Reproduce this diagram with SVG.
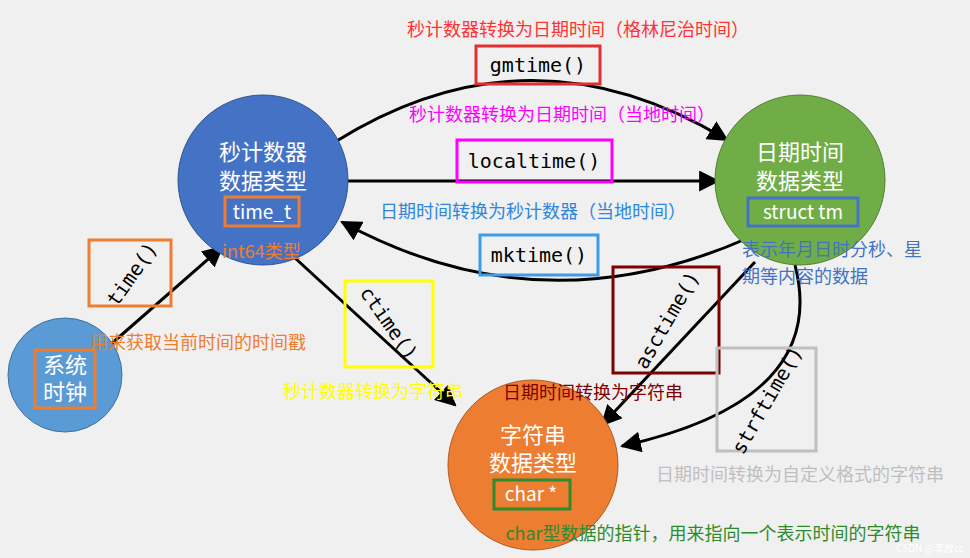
<svg xmlns="http://www.w3.org/2000/svg" width="970" height="558" viewBox="0 0 970 558">
<defs>
<marker id="ah" viewBox="0 0 10 10" refX="9" refY="5" markerWidth="7" markerHeight="7" orient="auto"><path d="M0,0 L10,5 L0,10 z" fill="#000"/></marker>
<style>
text{font-family:"Noto Sans CJK SC","Noto Sans",sans-serif;}
.lbl{font-size:18px;}
.mono{font-family:"DejaVu Sans Mono","Liberation Mono","Noto Sans CJK SC",monospace;font-size:20px;fill:#000;}
.ct{font-size:22px;fill:#fff;text-anchor:middle;}
.ln{fill:none;stroke:#000;stroke-width:3;marker-end:url(#ah);}
.bx{fill:none;stroke-width:3;}
</style>
</defs>
<rect width="970" height="558" fill="#f0f0f0"/>
<g id="connectors">
<path class="ln" d="M335,142 Q530,20 727,140"/>
<path class="ln" d="M348,181 L718,181"/>
<path class="ln" d="M748,238 Q540,330 342,222"/>
<path class="ln" d="M110,345 L222,247"/>
<path class="ln" d="M295,258 L455,405"/>
<path class="ln" d="M755,262 L602,425"/>
<path class="ln" d="M795,265 Q830,400 622,446"/>
</g>
<g id="seconds">
<circle cx="263" cy="180" r="85" fill="#4472c4" stroke="#2f528f" stroke-width="1"/>
<text class="ct" x="263" y="160">秒计数器</text>
<text class="ct" x="263" y="189">数据类型</text>
<rect class="bx" x="225" y="197" width="74" height="29" stroke="#ed7d31"/>
<text class="ct" x="262" y="219" style="font-size:19px">time_t</text>
<text class="lbl" x="222" y="258" fill="#ed7d31">int64类型</text>
</g>
<g id="datetime">
<circle cx="800" cy="180" r="85" fill="#70ad47" stroke="#507e32" stroke-width="1"/>
<text class="ct" x="800" y="160">日期时间</text>
<text class="ct" x="800" y="189">数据类型</text>
<rect class="bx" x="748" y="198" width="110" height="28" stroke="#4472c4"/>
<text class="ct" x="803" y="219" style="font-size:19px">struct tm</text>
<text class="lbl" x="742" y="256" fill="#4472c4">表示年月日时分秒、星</text>
<text class="lbl" x="742" y="283" fill="#4472c4">期等内容的数据</text>
</g>
<g id="clock">
<circle cx="65" cy="375" r="57" fill="#5b9bd5" stroke="#41719c" stroke-width="1"/>
<rect class="bx" x="35" y="350" width="60" height="58" stroke="#ed7d31"/>
<text class="ct" x="65" y="373">系统</text>
<text class="ct" x="65" y="400">时钟</text>
</g>
<g id="string">
<circle cx="533" cy="465" r="85" fill="#ed7d31" stroke="#ae5a21" stroke-width="1"/>
<text class="ct" x="533" y="443">字符串</text>
<text class="ct" x="533" y="471">数据类型</text>
<rect class="bx" x="494" y="480" width="76" height="29" stroke="#2e8b2e"/>
<text class="ct" x="531" y="501" style="font-size:19px">char *</text>
<text class="lbl" x="713" y="540" fill="#2e8b2e" text-anchor="middle">char型数据的指针，用来指向一个表示时间的字符串</text>
</g>
<g id="gmtime">
<text class="lbl" x="578" y="36" fill="#ff3333" text-anchor="middle">秒计数器转换为日期时间（格林尼治时间）</text>
<rect class="bx" x="476" y="46" width="124" height="38" stroke="#e03030"/>
<text class="mono" x="538" y="72" text-anchor="middle">gmtime()</text>
</g>
<g id="localtime">
<text class="lbl" x="562" y="121" fill="#ff00ff" text-anchor="middle">秒计数器转换为日期时间（当地时间）</text>
<rect class="bx" x="457" y="140" width="155" height="42" stroke="#ff00ff"/>
<text class="mono" x="534" y="168" text-anchor="middle">localtime()</text>
</g>
<g id="mktime">
<text class="lbl" x="533" y="218" fill="#2e86de" text-anchor="middle">日期时间转换为秒计数器（当地时间）</text>
<rect class="bx" x="480" y="235" width="118" height="40" stroke="#3d9be9"/>
<text class="mono" x="539" y="262" text-anchor="middle">mktime()</text>
</g>
<g id="time">
<rect class="bx" x="89" y="240" width="82" height="66" stroke="#ed7d31"/>
<text class="mono" transform="translate(132,274) rotate(-55)" text-anchor="middle" dy="7">time()</text>
<text class="lbl" x="90" y="349" fill="#ed7d31">用来获取当前时间的时间戳</text>
</g>
<g id="ctime">
<rect class="bx" x="345" y="281" width="88" height="86" stroke="#ffff00"/>
<text class="mono" transform="translate(389,323) rotate(55)" text-anchor="middle" dy="7">ctime()</text>
<text class="lbl" x="373" y="398" fill="#ffff00" text-anchor="middle">秒计数器转换为字符串</text>
</g>
<g id="asctime">
<rect class="bx" x="613" y="267" width="106" height="106" stroke="#7f0000"/>
<text class="mono" transform="translate(667,320) rotate(-60)" text-anchor="middle" dy="7">asctime()</text>
<text class="lbl" x="593" y="399" fill="#7f0000" text-anchor="middle">日期时间转换为字符串</text>
</g>
<g id="strftime">
<rect class="bx" x="717" y="348" width="99" height="103" stroke="#bfbfbf"/>
<text class="mono" transform="translate(767,400) rotate(-60)" text-anchor="middle" dy="7">strftime()</text>
<text class="lbl" x="800" y="481" fill="#bfbfbf" text-anchor="middle">日期时间转换为自定义格式的字符串</text>
</g>
<text x="930" y="552" font-size="10" fill="#ffffff" text-anchor="middle">CSDN @李放cc</text>
</svg>
